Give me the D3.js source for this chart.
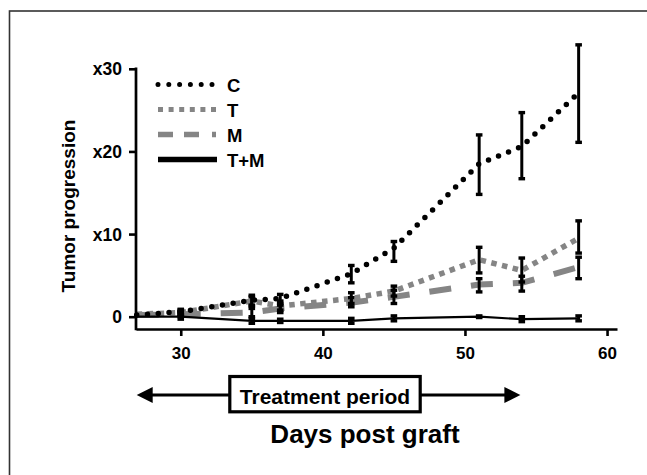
<!DOCTYPE html>
<html>
<head>
<meta charset="utf-8">
<script src="https://cdn.jsdelivr.net/npm/d3@7"></script>
<style>
  body { margin: 0; background: #fff; }
  text { font-family: "Liberation Sans", Arial, sans-serif; font-weight: bold; fill: #000; }
</style>
</head>
<body>
<div id="chart"></div>
<script>
// Days post graft (first entry is where the curves start at the axis)
const days = [26.9, 30, 35, 37, 42, 45, 51, 54, 58];

// Tumor progression per group (fold change), with error bar bounds
const valC = [0.2, 0.6, 2.0, 2.2, 5.2, 8.3, 18.5, 20.6, 27.1];
const loC = [null, 0.3, 1.4, 1.6, 4.1, 6.7, 14.8, 16.7, 21.1];
const hiC = [null, 0.9, 2.6, 2.7, 6.2, 9.1, 22.0, 24.7, 32.9];

const valT = [0.3, 0.5, 1.9, 1.3, 2.2, 3.1, 6.9, 5.6, 9.5];
const loT = [null, 0.2, 1.3, 0.8, 1.6, 2.5, 5.3, 4.2, 7.7];
const hiT = [null, 0.8, 2.4, 1.9, 2.9, 3.7, 8.4, 7.1, 11.6];

const valM = [0.2, 0.3, 0.5, 1.0, 1.7, 2.4, 3.9, 4.1, 6.0];
const loM = [null, 0.0, 0.0, 0.5, 1.2, 1.6, 3.0, 3.1, 4.6];
const hiM = [null, 0.6, 1.0, 1.4, 2.3, 3.2, 4.6, 4.9, 7.2];

const valTM = [0.0, 0.0, -0.5, -0.5, -0.5, -0.2, 0.0, -0.3, -0.2];
const loTM = [null, -0.3, -0.8, -0.7, -0.8, -0.5, -0.1, -0.6, -0.5];
const hiTM = [null, 0.3, -0.2, -0.3, -0.2, 0.1, 0.1, 0.0, 0.1];

const yTicks = [0, 10, 20, 30];
const xTicks = [30, 40, 50, 60];
const treatment = [26.9, 53.9]; // arrow span in days

const width = 647, height = 475;
const svg = d3.select("#chart").append("svg")
  .attr("width", width).attr("height", height);

// frame (only left and top edges are inside the picture)
svg.append("rect")
  .attr("x", 9.5).attr("y", 11)
  .attr("width", 800).attr("height", 800)
  .attr("fill", "none").attr("stroke", "#333").attr("stroke-width", 1.6);

const x = d3.scaleLinear().domain([26.85, 60.7]).range([136, 617]);
const y = d3.scaleLinear().domain([0, 30]).range([316.7, 68.8]);
const xAxisY = y(0) + 12.3;

// series definition
const groups = [
  { name: "M", vals: valM, lo: loM, hi: hiM, color: "#858585", width: 6, dash: "22 20", cap: "butt",
    legendDash: "15 11 15 13 4 40", legendWidth: 5.5 },
  { name: "T", vals: valT, lo: loT, hi: hiT, color: "#858585", width: 5.5, dash: "5.5 5.5", cap: "butt",
    legendDash: "5 5.6", legendWidth: 5 },
  { name: "C", vals: valC, lo: loC, hi: hiC, color: "#000", width: 5.5, dash: "0 10.8", cap: "round",
    legendDash: "0 10.8", legendWidth: 5 },
  { name: "T+M", vals: valTM, lo: loTM, hi: hiTM, color: "#000", width: 2.2, dash: null, cap: "butt",
    legendDash: null, legendWidth: 5.5 },
];

const line = d3.line().x(d => x(d[0])).y(d => y(d[1]));

const plot = svg.append("g");
groups.forEach(g => {
  plot.append("path")
    .datum(days.map((d, i) => [d, g.vals[i]]))
    .attr("d", line)
    .attr("fill", "none")
    .attr("stroke", g.color)
    .attr("stroke-width", g.width)
    .attr("stroke-linecap", g.cap)
    .attr("stroke-dasharray", g.dash);
});

// error bars on top
const bars = plot.append("g").attr("stroke", "#000");
groups.forEach(g => {
  days.forEach((d, i) => {
    if (g.lo[i] == null) return;
    const cx = x(d);
    bars.append("line")
      .attr("x1", cx).attr("x2", cx)
      .attr("y1", y(g.lo[i])).attr("y2", y(g.hi[i]))
      .attr("stroke-width", 3);
    [g.lo[i], g.hi[i]].forEach(v => {
      bars.append("line")
        .attr("x1", cx - 3.3).attr("x2", cx + 3.3)
        .attr("y1", y(v)).attr("y2", y(v))
        .attr("stroke-width", 3.4);
    });
  });
});

// axes
const yAxis = svg.append("g")
  .attr("transform", "translate(136,0)")
  .call(d3.axisLeft(y).tickValues(yTicks)
    .tickFormat(d => d === 0 ? "0" : "x" + d)
    .tickSize(7).tickSizeOuter(0).tickPadding(7));
yAxis.select(".domain").remove();
yAxis.selectAll(".tick line").attr("stroke-width", 2.6);
yAxis.selectAll(".tick text").style("font-size", "17.5px").attr("dy", "0.34em");
svg.append("line")
  .attr("x1", 136).attr("x2", 136)
  .attr("y1", y(30) - 1.3).attr("y2", xAxisY + 1.3)
  .attr("stroke", "#000").attr("stroke-width", 2.7);

const xAxis = svg.append("g")
  .attr("transform", `translate(0,${xAxisY})`)
  .call(d3.axisBottom(x).tickValues(xTicks)
    .tickSize(7).tickSizeOuter(0).tickPadding(11));
xAxis.select(".domain").attr("stroke-width", 2.7);
xAxis.selectAll(".tick line").attr("stroke-width", 2.6);
xAxis.selectAll(".tick text").style("font-size", "17px");

// axis titles
svg.append("text")
  .attr("transform", "translate(75,206) rotate(-90)")
  .attr("text-anchor", "middle")
  .style("font-size", "19px")
  .text("Tumor progression");

svg.append("text")
  .attr("x", 365).attr("y", 443)
  .attr("text-anchor", "middle")
  .style("font-size", "26px")
  .text("Days post graft");

// treatment period arrow
const arrowY = 395;
const ax0 = x(treatment[0]), ax1 = x(treatment[1]);
svg.append("line")
  .attr("x1", ax0 + 10).attr("x2", ax1 - 10)
  .attr("y1", arrowY).attr("y2", arrowY)
  .attr("stroke", "#000").attr("stroke-width", 3);
svg.append("path")
  .attr("d", `M${ax0},${arrowY} L${ax0 + 16},${arrowY - 8} L${ax0 + 16},${arrowY + 8} Z`)
  .attr("fill", "#000");
svg.append("path")
  .attr("d", `M${ax1},${arrowY} L${ax1 - 16},${arrowY - 8} L${ax1 - 16},${arrowY + 8} Z`)
  .attr("fill", "#000");
svg.append("rect")
  .attr("x", 229.8).attr("y", 376.5)
  .attr("width", 190.4).attr("height", 35.3)
  .attr("fill", "#fff").attr("stroke", "#000").attr("stroke-width", 3.2);
svg.append("text")
  .attr("x", 325).attr("y", 404)
  .attr("text-anchor", "middle")
  .style("font-size", "21px")
  .text("Treatment period");

// legend (order C, T, M, T+M)
const legendOrder = ["C", "T", "M", "T+M"];
const legend = svg.append("g");
legendOrder.forEach((name, i) => {
  const g = groups.find(s => s.name === name);
  const ly = 84.5 + i * 25;
  legend.append("line")
    .attr("x1", 158).attr("x2", 217)
    .attr("y1", ly).attr("y2", ly)
    .attr("stroke", g.color)
    .attr("stroke-width", g.legendWidth)
    .attr("stroke-linecap", g.cap)
    .attr("stroke-dasharray", g.legendDash);
  legend.append("text")
    .attr("x", 227).attr("y", ly + 7)
    .style("font-size", "18.5px")
    .text(name);
});
</script>
</body>
</html>
